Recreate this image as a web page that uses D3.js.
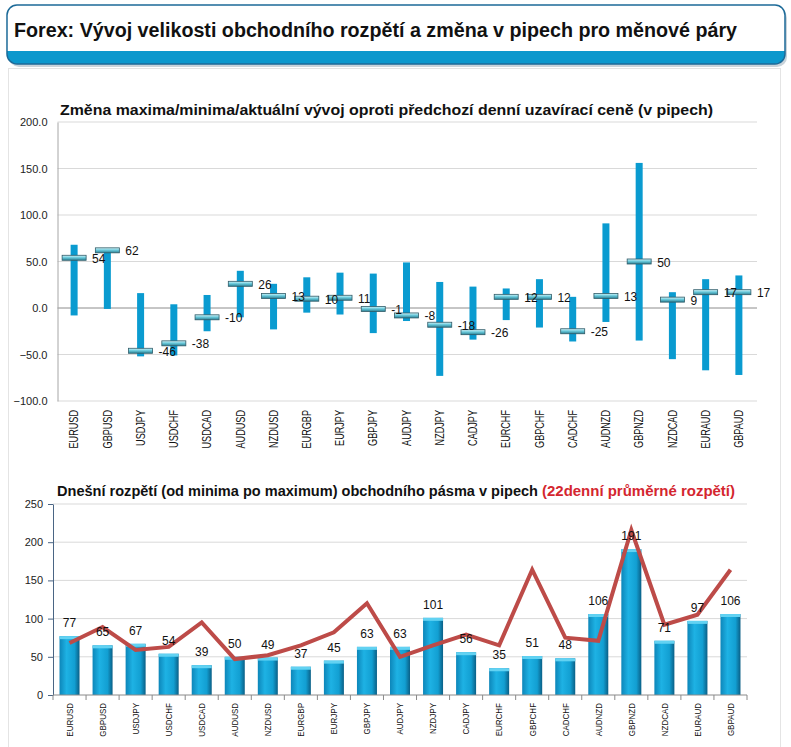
<!DOCTYPE html>
<html>
<head>
<meta charset="utf-8">
<script src="https://cdn.jsdelivr.net/npm/d3@7"></script>
<style>
  html, body { margin: 0; padding: 0; background: #ffffff; }
  svg { display: block; font-family: "Liberation Sans", Arial, sans-serif; }
</style>
</head>
<body>
<svg id="chart" width="791" height="747"></svg>
<script>
// ---- data ----
const pairs = ["EURUSD","GBPUSD","USDJPY","USDCHF","USDCAD","AUDUSD","NZDUSD","EURGBP","EURJPY","GBPJPY","AUDJPY","NZDJPY","CADJPY","EURCHF","GBPCHF","CADCHF","AUDNZD","GBPNZD","NZDCAD","EURAUD","GBPAUD"];
const highChange = [68, 64, 16, 4, 14, 40, 26, 33, 38, 37, 49, 28, 23, 21, 31, 12, 91, 156, 17, 31, 35];
const lowChange  = [-8, -1, -52, -51, -25, -10, -23, -5, -7, -27, -14, -73, -34, -13, -21, -36, -15, -35, -55, -67, -72];
const currentChange = [54, 62, -46, -38, -10, 26, 13, 10, 11, -1, -8, -18, -26, 12, 12, -25, 13, 50, 9, 17, 17];
const todayRange = [77, 65, 67, 54, 39, 50, 49, 37, 45, 63, 63, 101, 56, 35, 51, 48, 106, 191, 71, 97, 106];
const avgRange22 = [68, 89, 59, 63, 95, 47, 52, 65, 82, 120, 50, 65, 79, 65, 164, 75, 71, 216, 92, 105, 164];
const topTicks = [-100, -50, 0, 50, 100, 150, 200];
const bottomTicks = [0, 50, 100, 150, 200, 250];

const mainTitle = "Forex: Vývoj velikosti obchodního rozpětí a změna v pipech pro měnové páry";
const topTitle = "Změna maxima/minima/aktuální vývoj oproti předchozí denní uzavírací ceně (v pipech)";
const bottomTitleA = "Dnešní rozpětí (od minima po maximum) obchodního pásma v pipech";
const bottomTitleB = "(22denní průměrné rozpětí)";

const svg = d3.select("#chart");
const defs = svg.append("defs");

// gradients
const mg = defs.append("linearGradient").attr("id","marker").attr("x1",0).attr("y1",0).attr("x2",0).attr("y2",1);
mg.append("stop").attr("offset","0%").attr("stop-color","#d8f6fb");
mg.append("stop").attr("offset","45%").attr("stop-color","#6ccbdc");
mg.append("stop").attr("offset","100%").attr("stop-color","#2a7f93");

const bg = defs.append("linearGradient").attr("id","bar").attr("x1",0).attr("y1",0).attr("x2",1).attr("y2",0);
bg.append("stop").attr("offset","0%").attr("stop-color","#0d86b9");
bg.append("stop").attr("offset","35%").attr("stop-color","#1eb2e4");
bg.append("stop").attr("offset","75%").attr("stop-color","#129fd2");
bg.append("stop").attr("offset","100%").attr("stop-color","#0a5f86");

// ---- header ----
defs.append("clipPath").attr("id","hclip").append("rect")
  .attr("x",7).attr("y",5).attr("width",778).attr("height",59).attr("rx",10);
svg.append("rect").attr("x",9).attr("y",8).attr("width",778).attr("height",59).attr("rx",10)
  .attr("fill","#c9d3da");
svg.append("rect").attr("x",7).attr("y",5).attr("width",778).attr("height",59).attr("rx",10).attr("fill","#fff");
svg.append("rect").attr("clip-path","url(#hclip)").attr("x",7).attr("y",51).attr("width",778).attr("height",14)
  .attr("fill","#0c98cd");
svg.append("rect").attr("x",7).attr("y",5).attr("width",778).attr("height",59).attr("rx",10)
  .attr("fill","none").attr("stroke","#1c6a98").attr("stroke-width",1.5);
svg.append("text").attr("x",14).attr("y",37).attr("font-size",20).attr("font-weight","bold").attr("fill","#111")
  .attr("textLength",723).attr("lengthAdjust","spacingAndGlyphs").text(mainTitle);

// panel
svg.append("rect").attr("x",8.5).attr("y",68.5).attr("width",772).attr("height",700)
  .attr("fill","#fff").attr("stroke","#e4e4e4");

// ---- top chart ----
const xT = d3.scaleBand().domain(pairs).range([57.5, 755.5]);
const yT = d3.scaleLinear().domain([-100, 200]).range([401, 122]);

svg.append("text").attr("x",60).attr("y",115).attr("font-size",14).attr("font-weight","bold").attr("fill","#111")
  .attr("textLength",653).attr("lengthAdjust","spacingAndGlyphs").text(topTitle);

const gT = svg.append("g");
gT.selectAll("line.grid").data(topTicks).join("line")
  .attr("x1",57.5).attr("x2",757).attr("y1",d=>yT(d)).attr("y2",d=>yT(d))
  .attr("stroke",d=>d===0?"#8c8c8c":"#d9d9d9").attr("stroke-width",1);

const yAxT = gT.append("g").attr("transform","translate(57.5,0)")
  .call(d3.axisLeft(yT).tickValues(topTicks).tickFormat(d3.format(".1f")).tickSize(0).tickPadding(10));
yAxT.select(".domain").attr("stroke","#a6a6a6");
yAxT.selectAll("text").attr("font-size",11).attr("fill","#222").attr("font-family","Liberation Sans, Arial, sans-serif");

// range bars
gT.selectAll("rect.rng").data(pairs).join("rect")
  .attr("x",d=>xT(d)+xT.bandwidth()/2-3.5).attr("width",7)
  .attr("y",(d,i)=>yT(highChange[i])).attr("height",(d,i)=>yT(lowChange[i])-yT(highChange[i]))
  .attr("fill","#0a9bd0");
// markers
gT.selectAll("rect.mk").data(pairs).join("rect")
  .attr("x",d=>xT(d)+xT.bandwidth()/2-12).attr("width",24)
  .attr("y",(d,i)=>yT(currentChange[i])-2.5).attr("height",5)
  .attr("fill","url(#marker)").attr("stroke","#2f5b68").attr("stroke-width",0.8);
gT.selectAll("text.lbl").data(pairs).join("text")
  .attr("x",d=>xT(d)+xT.bandwidth()/2+18).attr("y",(d,i)=>yT(currentChange[i])+5)
  .attr("font-size",12).attr("fill","#111").text((d,i)=>currentChange[i]);

const xAxT = gT.append("g").attr("transform","translate(0,401)")
  .call(d3.axisBottom(xT).tickSize(0));
xAxT.select(".domain").remove();
xAxT.selectAll("text").attr("y",0).attr("dy","0.35em").attr("x",0)
  .attr("text-anchor","end").attr("font-size",12).attr("fill","#111")
  .attr("font-family","Liberation Sans, Arial, sans-serif")
  .attr("transform","translate(0,9) rotate(-90) scale(0.76,1)");

// ---- bottom chart ----
const xB = d3.scaleBand().domain(pairs).range([53, 747]);
const yB = d3.scaleLinear().domain([0, 250]).range([695, 504]);

const tA = svg.append("text").attr("x",57).attr("y",496).attr("font-size",14).attr("font-weight","bold").attr("fill","#111")
  .attr("textLength",481).attr("lengthAdjust","spacingAndGlyphs").text(bottomTitleA);
svg.append("text").attr("x",542).attr("y",496).attr("font-size",14).attr("font-weight","bold").attr("fill","#d4262f")
  .attr("textLength",193).attr("lengthAdjust","spacingAndGlyphs").text(bottomTitleB);

const gB = svg.append("g");
gB.selectAll("line.grid").data(bottomTicks.filter(d=>d>0)).join("line")
  .attr("x1",53).attr("x2",747).attr("y1",d=>yB(d)).attr("y2",d=>yB(d))
  .attr("stroke","#d9d9d9");

// bars
const bw = 20;
gB.selectAll("rect.bar").data(pairs).join("rect")
  .attr("x",d=>xB(d)+xB.bandwidth()/2-bw/2).attr("width",bw)
  .attr("y",(d,i)=>yB(todayRange[i])).attr("height",(d,i)=>yB(0)-yB(todayRange[i]))
  .attr("fill","url(#bar)");
gB.selectAll("rect.cap").data(pairs).join("rect")
  .attr("x",d=>xB(d)+xB.bandwidth()/2-bw/2).attr("width",bw)
  .attr("y",(d,i)=>yB(todayRange[i])).attr("height",3)
  .attr("fill","#62d2f2");

// line
const line = d3.line().x((d,i)=>xB(pairs[i])+xB.bandwidth()/2).y(d=>yB(d));
gB.append("path").datum(avgRange22).attr("d",line)
  .attr("fill","none").attr("stroke","#bd4b48").attr("stroke-width",4).attr("stroke-linejoin","miter");

// labels
gB.selectAll("text.val").data(pairs).join("text")
  .attr("x",d=>xB(d)+xB.bandwidth()/2).attr("y",(d,i)=>yB(todayRange[i])-9)
  .attr("text-anchor","middle").attr("font-size",12).attr("fill","#111").text((d,i)=>todayRange[i]);

// axes
const yAxB = gB.append("g").attr("transform","translate(53,0)")
  .call(d3.axisLeft(yB).tickValues(bottomTicks).tickSize(5).tickPadding(5).tickSizeOuter(0));
yAxB.selectAll("path,line").attr("stroke","#4a6584");
yAxB.selectAll("text").attr("font-size",11).attr("fill","#222").attr("font-family","Liberation Sans, Arial, sans-serif");

const xAxB = gB.append("g").attr("transform","translate(0,695)");
xAxB.append("line").attr("x1",53).attr("x2",747).attr("stroke","#8a8a8a");
xAxB.selectAll("line.tk").data(pairs.concat(["__end"])).join("line")
  .attr("x1",(d,i)=>53+i*xB.bandwidth()).attr("x2",(d,i)=>53+i*xB.bandwidth())
  .attr("y1",0).attr("y2",5).attr("stroke","#8a8a8a");
xAxB.selectAll("text").data(pairs).join("text")
  .attr("text-anchor","end").attr("dy","0.35em").attr("font-size",9.5).attr("fill","#111")
  .attr("transform",d=>`translate(${xB(d)+xB.bandwidth()/2},8) rotate(-90) scale(0.84,1)`)
  .text(d=>d);
</script>
</body>
</html>
